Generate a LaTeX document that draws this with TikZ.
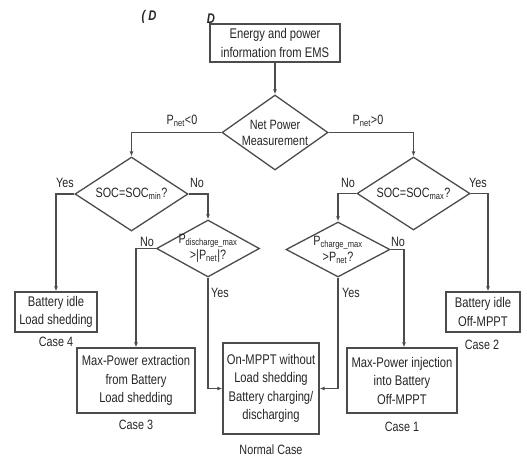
\documentclass[tikz,border=0pt]{standalone}
\usepackage{fontspec}
\setmainfont{Liberation Sans}[FakeStretch=0.8]
\usepackage{tikz}
\usetikzlibrary{shapes.geometric, arrows.meta, positioning}
\tikzset{
  box/.style={
    rectangle, draw=black!70, line width=1.3pt, fill=white,
    text centered, align=center, inner sep=1pt, text=black!85,
    font=\fontsize{14}{18.5}\selectfont
  },
  decision/.style={
    diamond, draw=black!70, line width=1.3pt, fill=white,
    align=center, inner sep=-3pt, text=black!85,
    font=\fontsize{13.5}{16}\selectfont
  },
  tag/.style={
    inner sep=1pt, text=black!85, font=\fontsize{13.5}{15}\selectfont
  },
  arrow/.style={
    -{Latex[length=5pt,width=4pt]}, line width=1.3pt, color=black!70
  }
}

\begin{document}
\begin{tikzpicture}[x=1pt, y=-1pt]
    \useasboundingbox (0,0) rectangle (527,459);

    % Letters left over at the top
    \node[tag, font=\fontsize{14}{16}\bfseries\itshape\selectfont] (capa) at (149,17) {( D};
    \node[tag, font=\fontsize{14}{16}\bfseries\itshape\selectfont] (capb) at (211,19) {D};

    % Start and first decision
    \node[box, minimum width=130pt, minimum height=38pt] (ems) at (275,43) {Energy and power\\information from EMS};
    \node[decision, aspect=1.41, minimum width=106pt, minimum height=75pt] (net) at (275,132.5) {Net Power\\Measurement};

    % Discharging side (left)
    \node[decision, aspect=1.53, minimum width=113pt, minimum height=74pt] (socmin) at (131.5,194) {SOC=SOC\textsubscript{min}?};
    \node[decision, aspect=1.8, minimum width=103pt, minimum height=57pt] (dismax) at (208,248.5) {P\textsubscript{discharge\_max}\\>|P\textsubscript{net}|?};

    % Charging side (right)
    \node[decision, aspect=1.55, minimum width=113pt, minimum height=73pt] (socmax) at (413.5,193.5) {SOC=SOC\textsubscript{max}?};
    \node[decision, aspect=1.85, minimum width=104pt, minimum height=55pt] (chmax) at (338,249.5) {P\textsubscript{charge\_max}\\>P\textsubscript{net}?};

    % Outcome blocks
    \node[box, minimum width=82pt, minimum height=40pt] (idleload) at (56,312) {Battery idle\\Load shedding};
    \node[box, minimum width=118pt, minimum height=65pt] (maxext) at (136,380.5) {Max-Power extraction\\from Battery\\Load shedding};
    \node[box, minimum width=96pt, minimum height=91pt] (normal) at (271,388.5) {On-MPPT without\\Load shedding\\Battery charging/\\discharging};
    \node[box, minimum width=110pt, minimum height=65pt] (maxinj) at (402,380.5) {Max-Power injection\\into Battery\\Off-MPPT};
    \node[box, minimum width=74pt, minimum height=40pt] (idlempp) at (483,312) {Battery idle\\Off-MPPT};

    % Case names
    \node[tag] (case4) at (56,342) {Case 4};
    \node[tag] (case3) at (136,425) {Case 3};
    \node[tag] (casen) at (271,450) {Normal Case};
    \node[tag] (case1) at (402,427) {Case 1};
    \node[tag] (case2) at (482,345) {Case 2};

    % Connectors
    \draw[arrow] (ems) -- (net);
    \draw[arrow] (net.west) -| (socmin.north);
    \draw[arrow] (net.east) -| (socmax.north);
    \draw[arrow] (socmin.west) -| (idleload.north);
    \draw[arrow] (socmin.east) -| (dismax.north);
    \draw[arrow] (dismax.west) -| (maxext.north);
    \draw[arrow] (dismax.south) |- (normal.west);
    \draw[arrow] (socmax.west) -| (chmax.north);
    \draw[arrow] (socmax.east) -| ([xshift=5pt]idlempp.north);
    \draw[arrow] (chmax.east) -| ([xshift=2pt]maxinj.north);
    \draw[arrow] (chmax.south) |- (normal.east);

    % Branch labels
    \node[tag] (pneg) at (182,121) {P\textsubscript{net}<0};
    \node[tag] (ppos) at (368,121) {P\textsubscript{net}>0};
    \node[tag] (yesa) at (65,183) {Yes};
    \node[tag] (noa) at (197,183) {No};
    \node[tag] (nob) at (348,183) {No};
    \node[tag] (yesb) at (478,183) {Yes};
    \node[tag] (noc) at (147,242) {No};
    \node[tag] (nod) at (398,242) {No};
    \node[tag] (yesc) at (220,293) {Yes};
    \node[tag] (yesd) at (351,293) {Yes};
\end{tikzpicture}
\end{document}
